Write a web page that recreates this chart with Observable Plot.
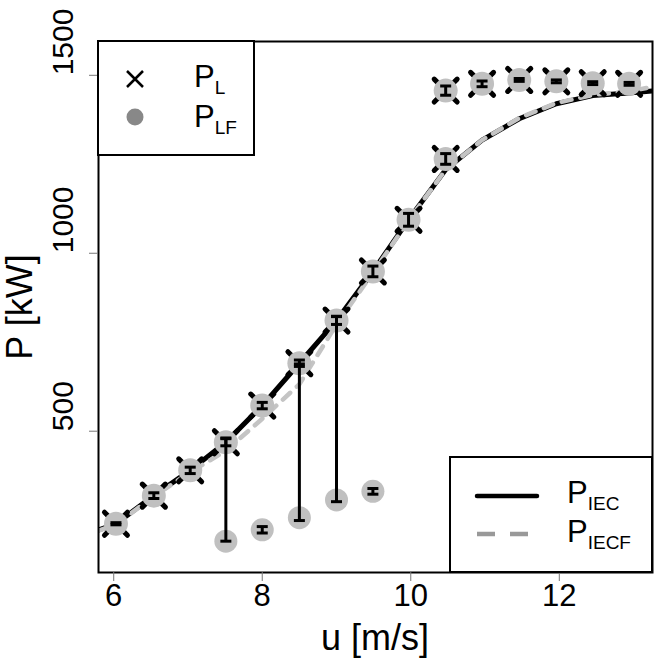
<!DOCTYPE html>
<html><head><meta charset="utf-8">
<script src="https://cdn.jsdelivr.net/npm/d3@7"></script>
<script src="https://cdn.jsdelivr.net/npm/@observablehq/plot@0.6"></script>
<style>body{margin:0;background:#fff} svg{display:block}</style>
</head><body><div id="chart"></div>
<script>
// P_L points (crosses with grey discs) and their error half-widths [kW]
const uL   = [6.03, 6.54, 7.03, 7.51, 8.0, 8.5, 9.0, 9.49, 9.97, 10.47, 10.47, 10.96, 11.46, 11.96, 12.45, 12.94];
const pL   = [240, 319, 390, 469, 572, 691, 811, 949, 1094, 1265, 1457, 1476, 1487, 1483, 1478, 1476];
const errL = [3, 8, 9, 10, 9, 9, 11, 15, 18, 15, 13, 8, 4, 4, 4, 4];
// P_LF points that deviate from P_L, with their error bar ends
const uLF  = [7.51, 8.0, 8.5, 9.0, 9.49];
const pLF  = [191, 223, 257, 307, 331];
const lfLo = [191, 214, 249, 302, 323];
const lfHi = [481, 232, 689, 823, 339];
// Power curves
const uCurve = [5.79, 6.03, 6.54, 7.03, 7.51, 8.0, 8.5, 9.0, 9.49, 9.97, 10.47, 10.96, 11.46, 11.96, 12.45, 12.94, 13.26];
const pIEC   = [222, 240, 319, 390, 469, 572, 691, 811, 949, 1094, 1235, 1318, 1378, 1420, 1443, 1450, 1456];
const pIECF  = [220, 238, 317, 385, 445, 535, 632, 800, 945, 1092, 1235, 1318, 1380, 1422, 1445, 1455, 1468];
const xTicks = [6, 8, 10, 12];
const yTicks = [500, 1000, 1500];

const L = uL.map((u, i) => ({u, p: pL[i], lo: pL[i] - errL[i], hi: pL[i] + errL[i]}));
const LF = uLF.map((u, i) => ({u, p: pLF[i], lo: lfLo[i], hi: lfHi[i]}));
const curve = uCurve.map((u, i) => ({u, iec: pIEC[i], iecf: pIECF[i]}));

const cap = {draw(ctx, size) { const r = Math.sqrt(size / Math.PI); ctx.moveTo(-r, 0); ctx.lineTo(r, 0); }};
const font = "'Liberation Sans', Arial, Helvetica, sans-serif";

const chart = Plot.plot({
  width: 671, height: 671,
  marginLeft: 98, marginRight: 19, marginTop: 41, marginBottom: 99,
  style: {fontFamily: font, color: "black", background: "white"},
  x: {domain: [5.795, 13.255]},
  y: {domain: [103, 1595]},
  marks: [
    Plot.line(curve, {x: "u", y: "iec", stroke: "black", strokeWidth: 5, clip: true}),
    Plot.line(curve, {x: "u", y: "iecf", stroke: "#c4c4c4", strokeWidth: 4.5, strokeDasharray: "10,9", clip: true}),
    Plot.dot(L, {x: "u", y: "p", symbol: "times", r: 10.5, stroke: "black", strokeWidth: 5, strokeLinecap: "round"}),
    Plot.dot(L, {x: "u", y: "p", r: 12, fill: "#c0c0c0", stroke: "none"}),
    Plot.dot(LF, {x: "u", y: "p", r: 11.5, fill: "#c0c0c0", stroke: "none"}),
    Plot.ruleX(L, {x: "u", y1: "lo", y2: "hi", stroke: "black", strokeWidth: 3}),
    Plot.dot(L, {x: "u", y: "lo", symbol: cap, r: 5.5, stroke: "black", strokeWidth: 3}),
    Plot.dot(L, {x: "u", y: "hi", symbol: cap, r: 5.5, stroke: "black", strokeWidth: 3}),
    Plot.ruleX(LF, {x: "u", y1: "lo", y2: "hi", stroke: "black", strokeWidth: 3}),
    Plot.dot(LF, {x: "u", y: "lo", symbol: cap, r: 5.5, stroke: "black", strokeWidth: 3}),
    Plot.dot(LF, {x: "u", y: "hi", symbol: cap, r: 5.5, stroke: "black", strokeWidth: 3}),
    Plot.frame({stroke: "black", strokeWidth: 2}),
    Plot.axisX({ticks: xTicks, tickSize: 9, tickPadding: 2, stroke: "#777", fontSize: 31, label: null}),
    Plot.axisY({ticks: yTicks, tickSize: 9, stroke: "#777", tickFormat: () => "", label: null}),
    Plot.text(yTicks, {y: d => d, text: d => String(d), frameAnchor: "left", dx: -35, rotate: -90, fontSize: 30})
  ]
});
document.getElementById("chart").appendChild(chart);

const svg = d3.select(chart);
svg.append("text").attr("x", 375).attr("y", 650).attr("text-anchor", "middle")
  .attr("font-size", 36).attr("font-family", font).text("u [m/s]");
svg.append("text").attr("transform", "translate(32,307) rotate(-90)").attr("text-anchor", "middle")
  .attr("font-size", 36).attr("font-family", font).text("P [kW]");

function sub(g, x, y, main, s) {
  const t = g.append("text").attr("x", x).attr("y", y).attr("text-anchor", "start")
    .attr("font-size", 31).attr("font-family", font);
  t.append("tspan").text(main);
  t.append("tspan").attr("font-size", 19).attr("dy", 7).text(s);
}
// legend top-left
const g1 = svg.append("g");
g1.append("rect").attr("x", 98).attr("y", 41).attr("width", 156).attr("height", 114)
  .attr("fill", "white").attr("stroke", "black").attr("stroke-width", 2);
g1.append("path").attr("d", "M127,71L143,87M127,87L143,71").attr("stroke", "black").attr("stroke-width", 2.5);
g1.append("circle").attr("cx", 135).attr("cy", 117).attr("r", 8.5).attr("fill", "#888");
sub(g1, 194, 87, "P", "L");
sub(g1, 194, 127, "P", "LF");
// legend bottom-right
const g2 = svg.append("g");
g2.append("rect").attr("x", 450).attr("y", 457).attr("width", 202).attr("height", 115)
  .attr("fill", "white").attr("stroke", "black").attr("stroke-width", 2);
g2.append("line").attr("x1", 477).attr("x2", 537).attr("y1", 496).attr("y2", 496)
  .attr("stroke", "black").attr("stroke-width", 4.5).attr("stroke-linecap", "round");
g2.append("line").attr("x1", 477).attr("x2", 537).attr("y1", 534).attr("y2", 534)
  .attr("stroke", "#999").attr("stroke-width", 4.5).attr("stroke-dasharray", "18,15");
sub(g2, 567, 503, "P", "IEC");
sub(g2, 567, 542, "P", "IECF");
</script>
</body></html>
